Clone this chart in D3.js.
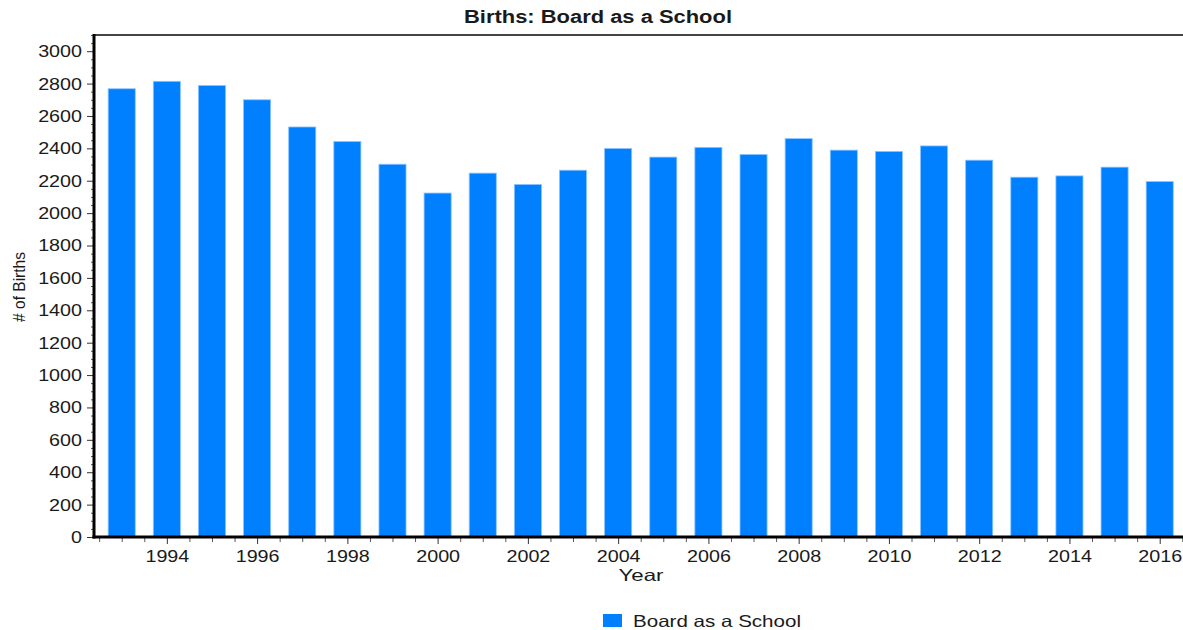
<!DOCTYPE html>
<html>
<head>
<meta charset="utf-8">
<script src="https://cdn.jsdelivr.net/npm/d3@7"></script>
<style>
  body { margin: 0; background: #fff; }
  svg { display: block; font-family: "Liberation Sans", Arial, sans-serif; }
</style>
</head>
<body>
<svg id="grafico" width="1183" height="630"></svg>
<script>
// dados do grafico
const anos = [1993, 1994, 1995, 1996, 1997, 1998, 1999, 2000, 2001, 2002, 2003, 2004,
              2005, 2006, 2007, 2008, 2009, 2010, 2011, 2012, 2013, 2014, 2015, 2016];
const nascimentos = [2768, 2814, 2788, 2700, 2532, 2442, 2302, 2124, 2247, 2177, 2265, 2399,
                     2346, 2406, 2362, 2460, 2389, 2381, 2415, 2327, 2222, 2230, 2284, 2195];
const ticksY = [0, 200, 400, 600, 800, 1000, 1200, 1400, 1600, 1800, 2000, 2200, 2400, 2600, 2800, 3000];
const ticksX = [1994, 1996, 1998, 2000, 2002, 2004, 2006, 2008, 2010, 2012, 2014, 2016];
const titulo = "Births: Board as a School";
const nomeSerie = "Board as a School";

const margem = {top: 35, left: 94, bottom: 537, right: 1183};
const corBarra = "#0080ff";
const corTexto = "#1a1a1a";
const esticar = 1.16; // o texto do original aparece esticado na horizontal

const svg = d3.select("#grafico");

const x = d3.scaleLinear().domain([1992.386, 2016.516]).range([margem.left, margem.right]);
const y = d3.scaleLinear().domain([0, 3100]).range([margem.bottom, margem.top]);
const larguraBarra = x(1993.6) - x(1993);

// titulo
svg.append("text")
    .attr("x", 598).attr("y", 23)
    .attr("text-anchor", "middle")
    .attr("font-size", 17.5).attr("font-weight", "bold")
    .attr("fill", corTexto)
    .attr("textLength", 268).attr("lengthAdjust", "spacingAndGlyphs")
    .text(titulo);

// barras
svg.append("g").selectAll("rect")
    .data(anos)
    .enter().append("rect")
        .attr("x", (d) => x(d) - larguraBarra / 2)
        .attr("width", larguraBarra)
        .attr("y", (d, i) => y(nascimentos[i]))
        .attr("height", (d, i) => y(0) - y(nascimentos[i]))
        .attr("fill", corBarra)
        .attr("stroke", "#8cc4ff")
        .attr("stroke-width", 0.8);

// borda superior
svg.append("line")
    .attr("x1", margem.left).attr("x2", margem.right)
    .attr("y1", margem.top).attr("y2", margem.top)
    .attr("stroke", "#444").attr("stroke-width", 2);

// eixo Y - ticks menores a cada 50
const menoresY = d3.range(0, 3101, 50).filter(v => v % 200 !== 0);
svg.append("g")
    .attr("transform", `translate(${margem.left},0)`)
    .call(d3.axisLeft(y).tickValues(menoresY).tickSize(3).tickFormat(""))
    .call(g => g.select(".domain").remove())
    .call(g => g.selectAll("line").attr("stroke", "#555"));

const eixoY = svg.append("g")
    .attr("transform", `translate(${margem.left},0)`)
    .call(d3.axisLeft(y).tickValues(ticksY).tickSize(7).tickFormat(d3.format("d")));
eixoY.select(".domain").remove();
eixoY.selectAll("line").attr("stroke", "#333");
eixoY.selectAll("text")
    .attr("font-size", 17).attr("fill", corTexto)
    .attr("font-family", "Liberation Sans, Arial, sans-serif")
    .attr("x", -12 / esticar)
    .attr("transform", `scale(${esticar},1)`);

// eixo X - ticks menores a cada meio ano
const menoresX = d3.range(1992.5, 2016.6, 0.5).filter(v => !ticksX.includes(v));
svg.append("g")
    .attr("transform", `translate(0,${margem.bottom})`)
    .call(d3.axisBottom(x).tickValues(menoresX).tickSize(5).tickFormat(""))
    .call(g => g.select(".domain").remove())
    .call(g => g.selectAll("line").attr("stroke", "#555"));

const eixoX = svg.append("g")
    .attr("transform", `translate(0,${margem.bottom})`)
    .call(d3.axisBottom(x).tickValues(ticksX).tickSize(7).tickFormat(d3.format("d")));
eixoX.select(".domain").remove();
eixoX.selectAll("line").attr("stroke", "#333");
eixoX.selectAll("text")
    .attr("font-size", 17).attr("fill", corTexto)
    .attr("font-family", "Liberation Sans, Arial, sans-serif")
    .attr("y", 25).attr("dy", 0)
    .attr("transform", `scale(${esticar},1)`);

// linhas dos eixos
svg.append("line")
    .attr("x1", margem.left).attr("x2", margem.left)
    .attr("y1", margem.top - 1).attr("y2", margem.bottom + 1.5)
    .attr("stroke", "#000").attr("stroke-width", 3);
svg.append("line")
    .attr("x1", margem.left - 1.5).attr("x2", margem.right)
    .attr("y1", margem.bottom).attr("y2", margem.bottom)
    .attr("stroke", "#000").attr("stroke-width", 3);

// titulos dos eixos
svg.append("text")
    .attr("x", 641).attr("y", 581)
    .attr("text-anchor", "middle")
    .attr("font-size", 16.5).attr("fill", corTexto)
    .attr("textLength", 45).attr("lengthAdjust", "spacingAndGlyphs")
    .text("Year");

svg.append("text")
    .attr("transform", `translate(25,287) scale(${esticar},1) rotate(-90)`)
    .attr("text-anchor", "middle")
    .attr("font-size", 14.5).attr("fill", corTexto)
    .attr("textLength", 70).attr("lengthAdjust", "spacingAndGlyphs")
    .text("# of Births");

// legenda
const legenda = svg.append("g").attr("transform", "translate(603,614)");
legenda.append("rect")
    .attr("width", 19).attr("height", 13)
    .attr("fill", corBarra);
legenda.append("text")
    .attr("x", 30).attr("y", 13)
    .attr("font-size", 16.5).attr("fill", corTexto)
    .attr("textLength", 168).attr("lengthAdjust", "spacingAndGlyphs")
    .text(nomeSerie);
</script>
</body>
</html>
